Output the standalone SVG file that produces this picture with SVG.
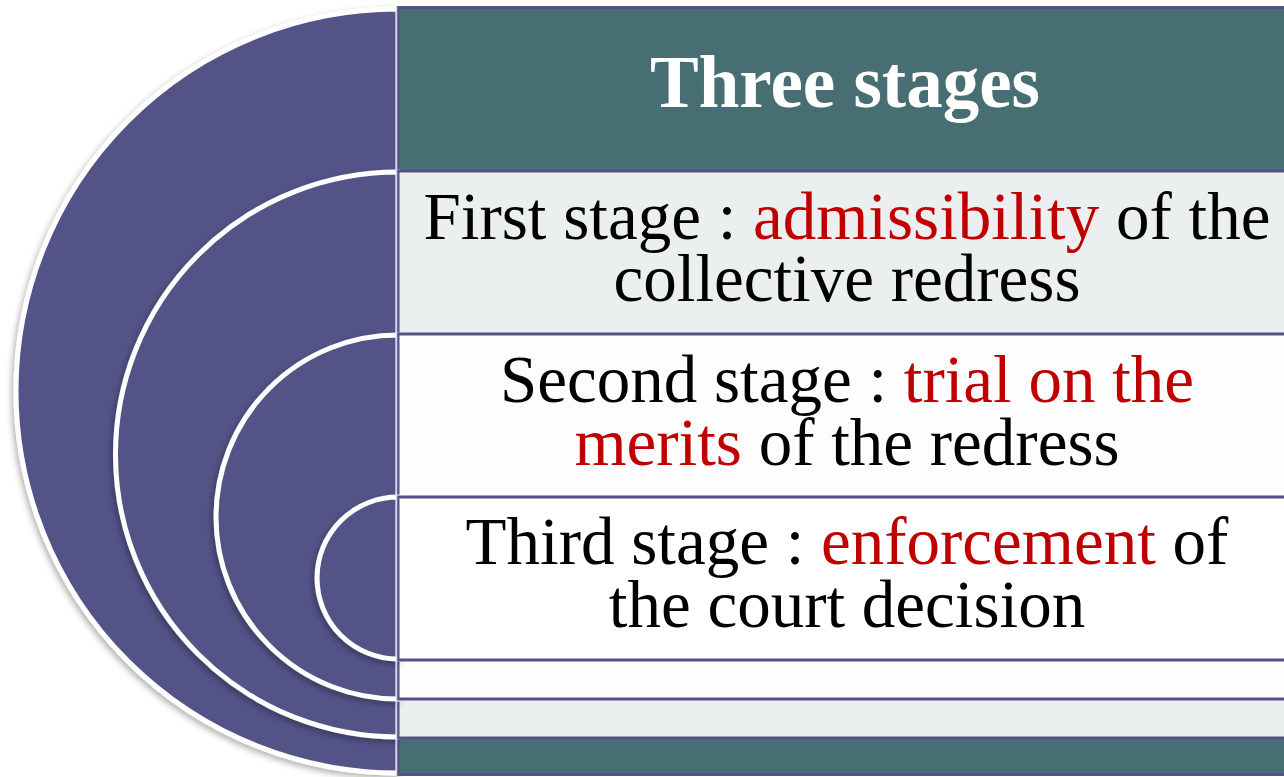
<svg xmlns="http://www.w3.org/2000/svg" width="1284" height="777" viewBox="0 0 1284 777">
<defs>
<filter id="sh" x="-10%" y="-10%" width="120%" height="120%">
<feDropShadow dx="-2" dy="3" stdDeviation="3" flood-color="#000" flood-opacity="0.3"/>
</filter>
<style>
.arc{fill:#525288;stroke:#ffffff;stroke-width:5;filter:url(#sh)}
.box{stroke:#525288;stroke-width:3}
.t{font-family:"Liberation Serif","Times New Roman",serif;font-size:67px;fill:#000;text-anchor:middle}
.red{fill:#c00000}
.h{font-family:"Liberation Serif","Times New Roman",serif;font-size:73px;font-weight:bold;fill:#fff;text-anchor:middle}
</style>
</defs>
<rect width="1284" height="777" fill="#ffffff"/>
<g id="level1">
<path class="arc" d="M398,9 A382,382 0 0 0 398,773 Z"/>
<rect class="box" x="398" y="7.5" width="900" height="767" fill="#476f73"/>
</g>
<g id="level2">
<path class="arc" d="M398,172 A282.5,282.5 0 0 0 398,737 Z"/>
<rect class="box" x="398" y="171" width="900" height="567" fill="#ebeff0"/>
</g>
<g id="level3">
<path class="arc" d="M398,335 A182,182 0 0 0 398,699 Z"/>
<rect class="box" x="398" y="334" width="900" height="365" fill="#fdfdfd"/>
</g>
<g id="level4">
<path class="arc" d="M398,497 A81,81 0 0 0 398,659 Z"/>
<rect class="box" x="398" y="497" width="900" height="163" fill="#ffffff"/>
</g>
<line x1="396.5" y1="6" x2="396.5" y2="776" stroke="#d8d8e4" stroke-width="1.5"/>
<g id="header">
<text class="h" x="845" y="107">Three stages</text>
</g>
<g id="stage1">
<text class="t"><tspan x="847" y="239">First stage : <tspan class="red">admissibility</tspan> of the</tspan><tspan x="847" y="301">collective redress</tspan></text>
</g>
<g id="stage2">
<text class="t"><tspan x="847" y="402">Second stage : <tspan class="red">trial on the</tspan></tspan><tspan x="847" y="465"><tspan class="red">merits</tspan> of the redress</tspan></text>
</g>
<g id="stage3">
<text class="t"><tspan x="847" y="564">Third stage : <tspan class="red">enforcement</tspan> of</tspan><tspan x="847" y="627">the court decision</tspan></text>
</g>
</svg>
